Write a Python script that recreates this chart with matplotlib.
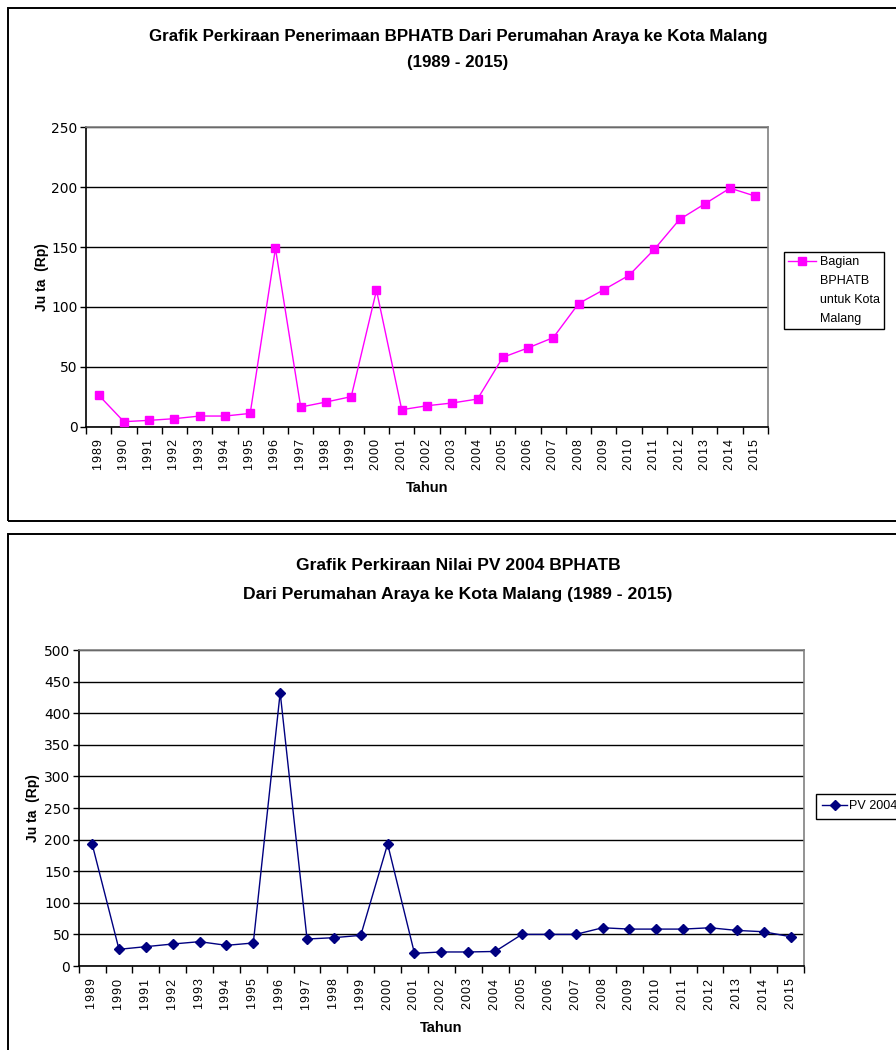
import matplotlib
matplotlib.use("Agg")
import matplotlib.pyplot as plt
import numpy as np
from matplotlib.patches import Rectangle
from matplotlib.lines import Line2D

# data
tahun = [str(t) for t in range(1989, 2016)]
bagian_bphatb = [26.4, 4.2, 5.3, 6.7, 8.9, 8.9, 11.1, 148.9, 16.4, 20.6, 25.1, 113.9,
                 14.2, 17.5, 19.8, 23.1, 57.9, 65.8, 74.4, 102.8, 114.4, 126.4, 148.1,
                 173.1, 186.1, 199.2, 192.5]
pv_2004 = [193.0, 26.4, 30.6, 34.8, 38.5, 32.7, 36.4, 432.5, 42.7, 44.8, 48.5, 193.0,
           20.0, 22.2, 22.2, 23.0, 50.0, 50.0, 50.0, 60.5, 58.4, 58.4, 58.4, 60.5,
           56.3, 54.2, 46.3]

plain = ['Liberation Sans', 'DejaVu Sans']

W, H = 896, 1050
fig = plt.figure(figsize=(W / 100, H / 100), dpi=100)
fig.patch.set_facecolor('white')


def px(x, y):
    return x / W, 1 - y / H


def box(x0, y0, x1, y1):
    a = px(x0, y1)
    b = px(x1, y0)
    fig.add_artist(Rectangle(a, b[0] - a[0], b[1] - a[1], transform=fig.transFigure,
                             fill=False, edgecolor='black', linewidth=1.4, clip_on=False))


def make_axes(left, top, right, bottom):
    x0, y0 = px(left, bottom)
    x1, y1 = px(right, top)
    return fig.add_axes([x0, y0, x1 - x0, y1 - y0])


def spaced(s):
    return '\u200a'.join(s)


def style_axes(ax, values, ymax, ystep, color, marker, msize, ylab_pad):
    n = len(values)
    x = np.arange(n)
    ax.plot(x, values, color=color, linewidth=1.0, marker=marker, markersize=msize,
            markerfacecolor=color, markeredgecolor=color, zorder=3)
    ax.set_xlim(-0.5, n - 0.5)
    ax.set_ylim(0, ymax)
    ax.set_yticks(np.arange(0, ymax + 1, ystep))
    ax.yaxis.grid(True, color='black', linewidth=1.0)
    ax.set_axisbelow(True)
    # ticks on category boundaries, labels centered
    ax.set_xticks(np.arange(n + 1) - 0.5)
    ax.set_xticklabels([])
    ax.set_xticks(x, minor=True)
    ax.set_xticklabels([spaced(t) for t in tahun], minor=True, rotation=90,
                       fontsize=9, family=plain)
    ax.tick_params(axis='x', which='major', direction='out', length=5, width=1, color='black')
    ax.tick_params(axis='x', which='minor', length=0, pad=9)
    ax.tick_params(axis='y', direction='out', length=4, width=1, labelsize=10, pad=2)
    for s in ['top', 'right']:
        ax.spines[s].set_color('#808080')
        ax.spines[s].set_linewidth(1.2)
    for s in ['left', 'bottom']:
        ax.spines[s].set_color('black')
        ax.spines[s].set_linewidth(1.2)
    ax.set_xlabel('Tahun', fontsize=10.5, fontweight='bold', family=plain, labelpad=8)
    ax.set_ylabel('Ju ta  (Rp)', fontsize=10, fontweight='bold', family=plain,
                  labelpad=ylab_pad)


# outer frames
box(8, 8, 900, 521)
box(8, 534, 900, 1060)

# top chart
ax1 = make_axes(86, 127.3, 768, 426.7)
style_axes(ax1, bagian_bphatb, 250, 50, '#FF00FF', 's', 6, 2)
fig.text(*px(458, 37), 'Grafik Perkiraan Penerimaan BPHATB Dari Perumahan Araya ke Kota Malang',
         ha='center', va='center', fontsize=12.2, fontweight='bold', family=plain)
fig.text(*px(458, 63), '(1989 - 2015)', ha='center', va='center', fontsize=12.2,
         fontweight='bold', family=plain)
h1 = Line2D([], [], color='#FF00FF', linewidth=1.0, marker='s', markersize=6)
blank = Line2D([], [], color='none')
leg1 = ax1.legend([h1, blank, blank, blank], ['Bagian', 'BPHATB', 'untuk Kota', 'Malang'],
                  loc='upper left',
                  bbox_to_anchor=px(784, 252), bbox_transform=fig.transFigure,
                  fancybox=False, edgecolor='black', framealpha=1,
                  prop={'family': plain, 'size': 9}, handlelength=2.2,
                  handletextpad=0.3, borderpad=0.35, labelspacing=0.55,
                  borderaxespad=0)
leg1.get_frame().set_linewidth(1.0)

# bottom chart
ax2 = make_axes(78.7, 650, 804, 966)
style_axes(ax2, pv_2004, 500, 50, '#000080', 'D', 5, 3)
fig.text(*px(458, 566), 'Grafik Perkiraan Nilai PV 2004 BPHATB',
         ha='center', va='center', fontsize=12.6, fontweight='bold', family=plain)
fig.text(*px(458, 594), 'Dari Perumahan Araya ke Kota Malang (1989 - 2015)',
         ha='center', va='center', fontsize=12.6, fontweight='bold', family=plain)
h2 = Line2D([], [], color='#000080', linewidth=1.0, marker='D', markersize=5)
leg2 = ax2.legend([h2], ['PV 2004'], loc='upper left',
                  bbox_to_anchor=px(816, 794), bbox_transform=fig.transFigure,
                  fancybox=False, edgecolor='black', framealpha=1,
                  prop={'family': plain, 'size': 9}, handlelength=2.0,
                  handletextpad=0.15, borderpad=0.5, borderaxespad=0)
leg2.get_frame().set_linewidth(1.0)

fig.savefig('out.png', dpi=100, facecolor='white')
